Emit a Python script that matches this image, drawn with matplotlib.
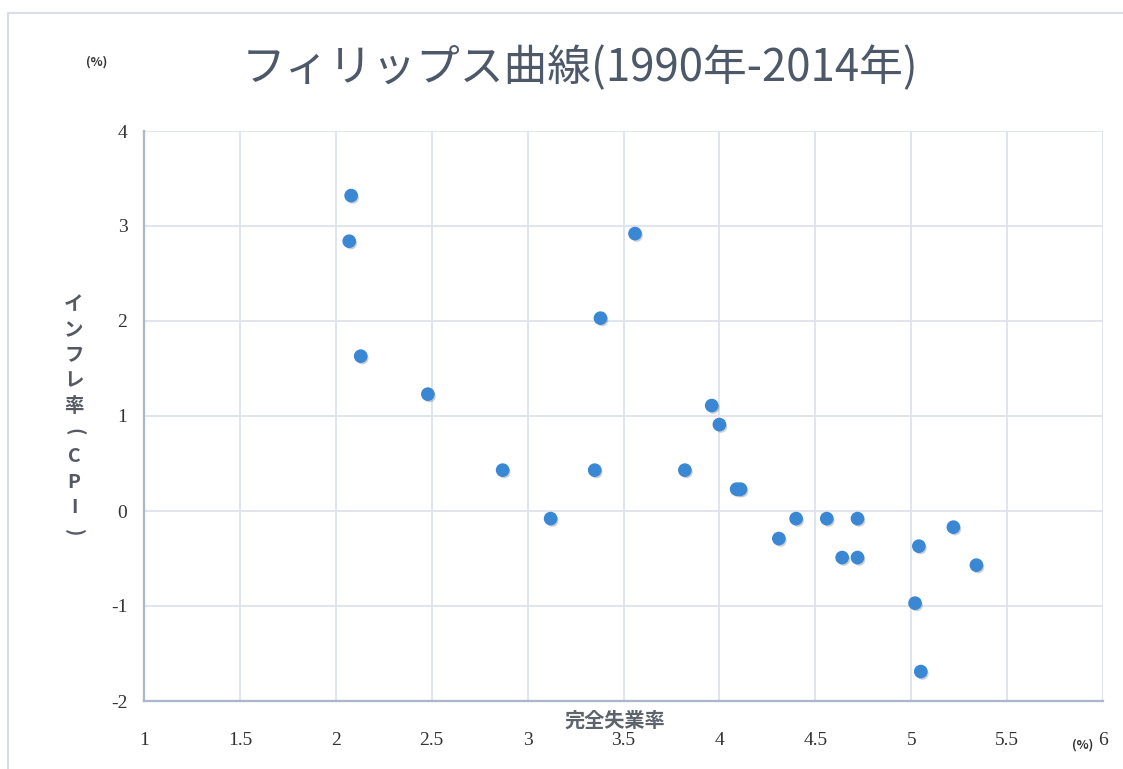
import matplotlib
matplotlib.use("Agg")
import matplotlib.pyplot as plt
from matplotlib.patches import Rectangle
import matplotlib.patheffects as pe

plt.rcParams['font.family'] = ['Noto Sans CJK JP', 'DejaVu Sans']

# 完全失業率 (%) と CPI 上昇率 (%), 1990年-2014年
unemployment = [2.08, 2.07, 2.13, 2.48, 2.87, 3.12, 3.35, 3.38, 3.56, 3.82,
                3.96, 4.00, 4.09, 4.11, 4.31, 4.40, 4.56, 4.64, 4.72, 4.72,
                5.04, 5.02, 5.05, 5.22, 5.34]
inflation = [3.32, 2.84, 1.63, 1.23, 0.43, -0.08, 0.43, 2.03, 2.92, 0.43,
             1.11, 0.91, 0.23, 0.23, -0.29, -0.08, -0.08, -0.49, -0.49, -0.08,
             -0.37, -0.97, -1.69, -0.17, -0.57]

x_ticks = [1, 1.5, 2, 2.5, 3, 3.5, 4, 4.5, 5, 5.5, 6]
x_tick_labels = ['1', '1.5', '2', '2.5', '3', '3.5', '4', '4.5', '5', '5.5', '6']
y_ticks = [-2, -1, 0, 1, 2, 3, 4]
y_tick_labels = ['-2', '-1', '0', '1', '2', '3', '4']

title = 'フィリップス曲線(1990年-2014年)'
x_label = '完全失業率'
# vertical axis title, one glyph per row; brackets are turned sideways
y_label_chars = ['イ', 'ン', 'フ', 'レ', '率', '(', 'C', 'P', 'I', ')']
unit = '(%)'

W, H = 1123, 769
fig = plt.figure(figsize=(W / 100, H / 100), dpi=100)
fig.patch.set_facecolor('white')

# outer chart frame
fig.patches.append(Rectangle((8 / W, -0.05), 1.2, 1 - 13 / H + 0.05,
                             transform=fig.transFigure, fill=False,
                             edgecolor='#d9dee6', linewidth=1.5))

ax = fig.add_axes([144 / W, 1 - 701 / H, (1103 - 144) / W, (701 - 131) / H])
ax.set_xlim(1, 6)
ax.set_ylim(-2, 4)

ax.set_xticks(x_ticks)
ax.set_xticklabels(x_tick_labels)
ax.set_yticks(y_ticks)
ax.set_yticklabels(y_tick_labels)

ax.grid(True, color='#dde2ea', linewidth=1.3)
ax.set_axisbelow(True)
for side in ['top', 'right']:
    ax.spines[side].set_visible(False)
for side in ['left', 'bottom']:
    ax.spines[side].set_color('#a9b6cc')
    ax.spines[side].set_linewidth(1.6)

ax.tick_params(length=0, labelsize=14, labelcolor='#333333')
ax.tick_params(axis='x', pad=22)
ax.tick_params(axis='y', pad=12)
for lbl in ax.get_xticklabels() + ax.get_yticklabels():
    lbl.set_fontfamily(['Liberation Serif', 'DejaVu Serif'])

ax.scatter(unemployment, inflation, s=78, color='#3a87d4', zorder=3,
           path_effects=[pe.SimplePatchShadow(offset=(1.2, -1.5), alpha=0.22),
                         pe.Normal()])

fig.text(580 / W, 1 - 68 / H, title, ha='center', va='center',
         fontsize=31.5, color='#4d5868')

fig.text(615 / W, 1 - 720 / H, x_label, ha='center', va='center',
         fontsize=14.5, color='#5d636b', fontweight='bold')

# stacked vertical y-axis title
top_px, step_px = 305, 25.3
for i, ch in enumerate(y_label_chars):
    rot = -90 if ch in '()' else 0
    fig.text(74 / W, 1 - (top_px + i * step_px) / H, ch, ha='center', va='center',
             fontsize=14, color='#555a62', fontweight='bold', rotation=rot)

fig.text(97 / W, 1 - 62 / H, unit, ha='center', va='center',
         fontsize=9, color='#333333', fontweight='bold')
fig.text(1083 / W, 1 - 745 / H, unit, ha='center', va='center',
         fontsize=9, color='#333333', fontweight='bold')

fig.savefig('out.png', dpi=100, facecolor='white')
